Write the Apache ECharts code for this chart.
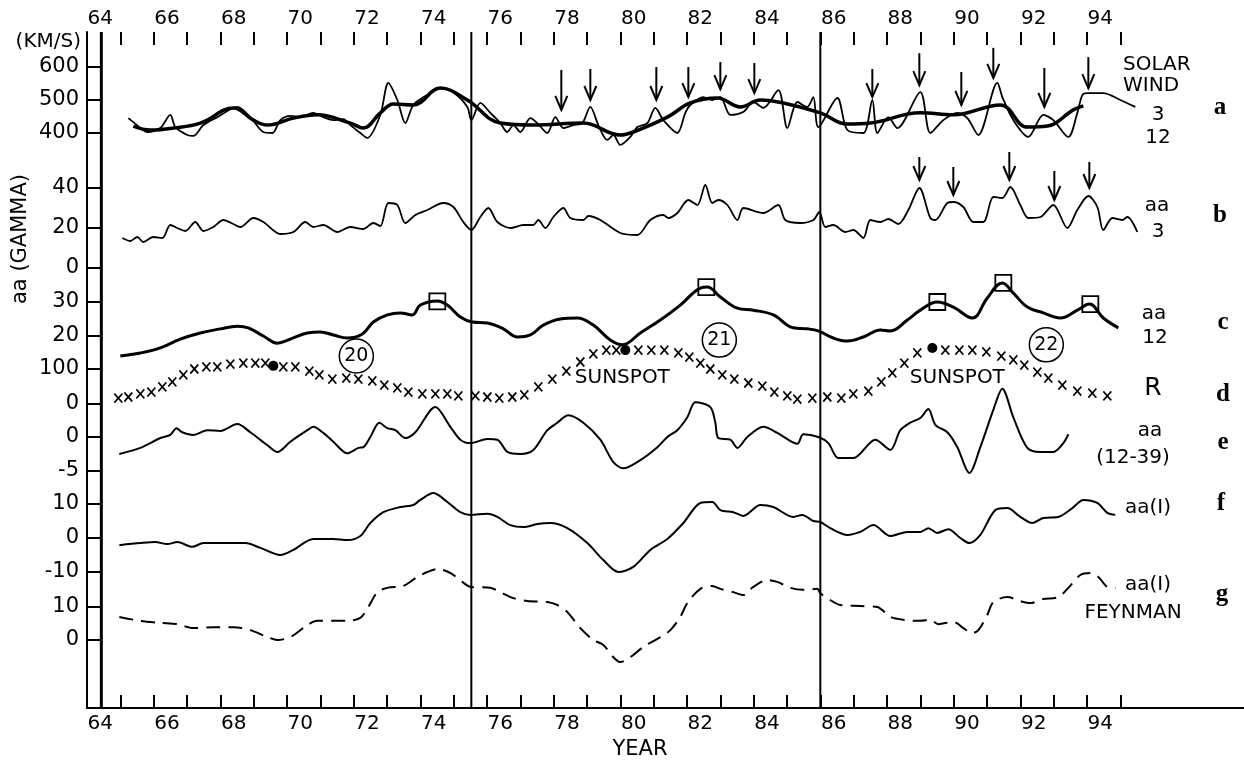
<!DOCTYPE html>
<html>
<head>
<meta charset="utf-8">
<script src="https://cdn.jsdelivr.net/npm/echarts@6/dist/echarts.min.js"></script>
<style>
  html, body { margin: 0; padding: 0; background: #fff; }
  #chart { width: 1244px; height: 764px; }
</style>
</head>
<body>
<div id="chart"></div>
<script>
// year axis
const yearLabels = [64, 66, 68, 70, 72, 74, 76, 78, 80, 82, 84, 86, 88, 90, 92, 94];
const yearTicks = [64.6, 65.6, 66.6, 67.6, 68.6, 69.6, 70.6, 71.6, 72.6, 73.6, 74.6, 75.6, 76.6, 77.6, 78.6,
  79.6, 80.6, 81.6, 82.6, 83.6, 84.6, 85.6, 86.6, 87.6, 88.6, 89.6, 90.6, 91.6, 92.6, 93.6, 94.6];
const cycleLines = [64.03, 75.13, 85.6];

// a: solar wind (km/s), 3-rotation and 12-rotation averages
const wind3 = [[64.84,445],[64.99,433],[65.41,403],[65.8,415],[66.1,455],[66.25,418],[66.61,394],[66.79,391],
  [67.09,424],[67.51,448],[68.11,479],[68.5,448],[68.89,403],[69.16,400],[69.4,439],[69.7,452],[70.0,448],
  [70.39,461],[70.69,448],[70.99,439],[71.29,442],[71.5,424],[71.8,400],[72.01,385],[72.4,455],[72.64,552],
  [72.91,500],[73.15,430],[73.39,485],[73.8,515],[74.2,536],[74.6,522],[75.01,479],[75.13,439],[75.4,491],
  [75.7,461],[76.0,430],[76.21,403],[76.39,424],[76.6,403],[76.9,445],[77.11,430],[77.41,400],[77.65,448],
  [77.89,415],[78.19,424],[78.46,430],[78.7,479],[78.94,424],[79.21,379],[79.39,394],[79.6,364],[79.9,388],
  [80.11,418],[80.41,430],[80.65,476],[80.89,439],[81.31,400],[81.55,461],[81.7,485],[82.09,509],[82.36,500],
  [82.6,509],[82.9,455],[83.29,464],[83.59,494],[83.89,476],[84.34,530],[84.61,415],[84.91,494],[85.21,479],
  [85.39,509],[85.54,418],[86.11,506],[86.41,409],[86.89,400],[87.16,500],[87.31,400],[87.64,448],[87.91,415],
  [88.6,524],[88.9,400],[89.29,439],[89.71,461],[90.01,445],[90.34,394],[90.91,552],[91.06,509],[91.39,439],
  [91.84,388],[92.29,455],[92.59,439],[93.04,388],[93.31,461],[93.46,515],[93.61,521],[94.09,521],[94.6,500],
  [95.05,479]];
const wind12 = [[64.99,421],[65.5,409],[66.19,415],[67.0,430],[68.0,476],[68.59,439],[69.01,424],[69.79,445],
  [70.51,455],[71.5,430],[71.89,415],[72.4,461],[72.79,488],[73.39,485],[74.2,536],[75.01,500],[76.0,430],
  [76.99,424],[78.49,430],[79.6,394],[79.99,403],[81.01,448],[81.7,491],[82.51,506],[83.2,479],[83.8,500],
  [84.49,491],[85.6,461],[86.41,427],[87.1,430],[88.6,461],[89.59,455],[91.0,485],[91.81,418],[92.41,421],
  [93.19,470],[93.49,482]];
// arrows: [year, tip, tail]
const windArrows = [[77.83,470,591],[78.7,500,594],[80.68,500,600],[81.64,509,600],[82.6,533,615],
  [83.62,521,612],[87.16,509,594],[88.57,545,642],[89.83,485,585],[90.79,567,658],[92.32,479,597],[93.64,536,630]];

// b: aa, 3-rotation
const aa3 = [[64.66,15],[64.9,13.5],[65.11,15.5],[65.29,13],[65.59,15.5],[65.86,15],[66.1,21.5],[66.31,20],
  [66.55,18.5],[66.85,23],[67.09,18.5],[67.39,20.5],[67.69,24],[67.99,22],[68.2,20.5],[68.59,25],[68.89,23],
  [69.4,17],[69.79,18],[70.15,23],[70.39,20.5],[70.69,21.5],[71.11,18],[71.5,20.5],[71.89,19.5],[72.19,22.5],
  [72.4,21],[72.64,32.5],[72.91,31.5],[73.15,22.5],[73.45,26.5],[73.81,29],[74.29,32.5],[74.59,30.5],[74.89,23],
  [75.13,19],[75.4,25.5],[75.64,30],[75.91,23],[76.3,20],[76.69,21.5],[76.99,21.5],[77.14,24],[77.35,20],
  [77.59,25.5],[77.89,30],[78.1,25],[78.49,24],[78.64,26],[79.0,24],[79.6,17.5],[80.11,16.5],[80.5,24],
  [80.89,26.5],[81.04,25],[81.31,27.5],[81.64,34],[81.91,31.5],[82.15,41.5],[82.36,32.5],[82.54,34],[82.81,31.5],
  [83.11,24],[83.29,30],[83.89,27.5],[84.34,31.5],[84.55,24],[85.0,22.5],[85.39,24],[85.57,28],[85.75,20.5],
  [85.99,21.5],[86.35,18],[86.59,19],[86.89,15],[87.1,24],[87.4,23],[87.64,24.5],[87.94,22],[88.24,29],
  [88.57,40],[88.9,25],[89.05,24],[89.41,32.5],[89.59,33],[89.89,30.5],[90.19,23],[90.49,23],[90.79,35.5],
  [91.06,35],[91.3,40.5],[91.6,31.5],[91.84,25],[92.2,25.5],[92.59,31.5],[93.01,20],[93.31,29],[93.64,36],
  [93.91,30.5],[94.09,19],[94.36,25],[94.66,24],[94.81,25.5],[95.11,18]];
const aaArrows = [[88.57,44,55.5],[89.59,36.5,50.5],[91.27,44,58],[92.62,34,48.5],[93.67,40,53]];

// c: aa, 12-rotation
const aa12 = [[64.6,14.1],[65.2,15],[65.8,16.5],[66.4,19.1],[67.0,20.9],[67.6,22.1],[68.11,22.9],[68.44,22.4],
  [68.89,20],[69.31,17.9],[69.7,19.1],[70.21,20.9],[70.6,21.2],[70.99,20.3],[71.41,19.4],[71.86,20.6],
  [72.19,24.1],[72.61,26.2],[73.0,26.8],[73.36,26.2],[73.6,29.1],[74.11,30.3],[74.41,29.1],[74.8,25.6],
  [75.16,24.1],[75.61,23.8],[76.09,22.1],[76.51,19.7],[76.9,20.3],[77.29,23.2],[77.8,25],[78.31,25.3],
  [78.79,23.2],[79.3,18.8],[79.66,17.4],[80.2,20.9],[80.8,24.7],[81.4,29.1],[82.0,34.1],[82.21,34.4],
  [82.6,31.5],[83.11,28.2],[83.59,27.6],[84.19,26.2],[84.79,22.4],[85.21,22.1],[85.54,21.5],[85.99,19.4],
  [86.41,18.5],[86.89,19.7],[87.4,21.8],[87.7,21.5],[88.21,24.7],[88.6,27.6],[89.11,30],[89.59,28.5],
  [90.16,25.3],[90.61,31.2],[91.06,35.6],[91.39,32.6],[91.81,28.5],[92.29,26.8],[92.8,25.3],[93.31,27.6],
  [93.67,29.4],[94.09,25.3],[94.54,22.4]];
const aa12Peaks = [[74.11,30.2],[82.18,34.4],[89.11,30],[91.09,35.6],[93.7,29.4]];
const cycleNumbers = [[71.68,14.1,'20'],[82.57,18.8,'21'],[92.38,17.4,'22']];

// d: sunspot number R
const sunspotR = [[64.54,17],[64.84,20],[65.2,29],[65.53,34],[65.86,49],[66.16,63],[66.49,83],[66.82,100],
  [67.18,106],[67.51,106],[67.9,114],[68.29,117],[68.65,117],[68.95,117],[69.49,106],[69.85,106],[70.27,94],
  [70.57,83],[70.96,71],[71.38,74],[71.74,71],[72.16,66],[72.52,54],[72.91,46],[73.24,34],[73.66,29],[74.05,29],
  [74.41,29],[74.74,23],[75.25,23],[75.61,20],[75.97,17],[76.36,20],[76.72,26],[77.14,49],[77.56,71],[77.98,94],
  [78.4,120],[78.79,143],[79.18,154],[79.48,154],[80.14,154],[80.53,154],[80.92,154],[81.34,146],[81.67,134],
  [82.0,117],[82.3,100],[82.66,83],[83.02,71],[83.44,60],[83.86,51],[84.22,34],[84.61,23],[84.91,14],[85.36,17],
  [85.81,20],[86.23,17],[86.59,29],[87.04,37],[87.43,63],[87.76,89],[88.12,117],[88.51,146],[89.35,154],
  [89.77,154],[90.16,154],[90.58,149],[91.03,137],[91.39,126],[91.72,111],[92.11,91],[92.44,74],[92.86,54],
  [93.31,37],[93.76,31],[94.21,23]];
const sunspotMax = [[69.19,109],[79.75,154],[88.96,160]];
const sunspotText = [[79.66,74,'SUNSPOT'],[89.71,74,'SUNSPOT']];

// e: aa (12-39)
const aaResid = [[64.57,-2.5],[65.2,-1.6],[65.8,-0.15],[66.1,0.3],[66.28,1.3],[66.46,0.7],[66.79,0.3],[67.21,1.0],
  [67.6,0.9],[68.11,1.9],[68.5,0.7],[69.01,-1.2],[69.31,-2.2],[69.7,-0.7],[70.21,1.0],[70.39,1.5],[70.69,0.6],
  [70.99,-0.7],[71.41,-2.4],[71.74,-1.6],[71.89,-1.5],[72.1,0],[72.37,2.1],[72.61,1.3],[72.85,1.0],[73.15,-0.15],
  [73.45,0.7],[74.05,4.4],[74.5,1.5],[74.8,-0.4],[75.1,-0.9],[75.61,-0.3],[75.91,-0.4],[76.21,-2.2],[76.6,-2.5],
  [76.99,-1.9],[77.41,1.0],[77.71,2.1],[78.04,3.2],[78.49,2.1],[79.0,-0.4],[79.39,-3.7],[79.69,-4.6],[80.2,-3.4],
  [80.71,-1.5],[81.01,0],[81.31,1.0],[81.61,2.9],[81.85,5.1],[82.3,4.4],[82.45,2.1],[82.54,-0.15],[82.9,-0.4],
  [83.11,-1.6],[83.41,0],[83.89,1.5],[84.31,0.6],[84.91,-1.0],[85.09,0.4],[85.54,0],[85.84,-0.9],[86.14,-3.1],
  [86.59,-3.1],[87.25,-0.4],[87.7,-1.9],[88.0,1.0],[88.3,2.1],[88.6,2.8],[88.84,4.1],[89.05,1.8],[89.41,0.7],
  [89.71,-1.5],[90.07,-5.3],[90.4,-1.5],[90.79,4.0],[91.06,7.1],[91.39,2.9],[91.81,-1.6],[92.2,-2.2],[92.59,-2.2],
  [92.89,-0.9],[93.04,0.4]];

// f: aa(I)
const aaI = [[64.57,-2.1],[65.2,-1.5],[65.65,-1.2],[66.01,-1.8],[66.31,-1.2],[66.76,-2.6],[67.09,-1.5],
  [67.51,-1.5],[68.35,-1.5],[68.8,-2.9],[69.4,-5.0],[69.79,-3.5],[70.39,-0.3],[70.99,-0.3],[71.41,-0.6],
  [71.8,0.6],[72.1,4.4],[72.49,7.6],[73.0,9.1],[73.39,9.7],[73.6,11.2],[73.99,13.2],[74.41,10.6],[74.8,7.6],
  [75.1,6.8],[75.61,7.1],[75.91,6.2],[76.3,3.8],[76.69,3.2],[77.11,4.1],[77.5,4.4],[78.01,2.9],[78.61,-1.5],
  [79.09,-6.5],[79.54,-10],[79.99,-8.5],[80.5,-3.5],[81.01,-0.3],[81.49,4.4],[82.0,10.3],[82.36,10.6],
  [82.6,8.2],[82.99,7.6],[83.29,6.5],[83.8,9.7],[84.19,9.1],[84.79,6.2],[85.06,6.8],[85.39,5.0],[85.6,4.7],
  [85.9,2.9],[86.41,0.9],[86.8,1.8],[87.19,3.8],[87.7,0.6],[88.21,1.8],[88.6,1.8],[88.84,2.9],[89.11,1.5],
  [89.44,2.6],[89.8,0],[90.07,-1.5],[90.4,0.9],[90.85,8.2],[91.21,8.8],[91.6,6.2],[91.96,4.4],[92.29,5.9],
  [92.74,6.2],[93.16,8.8],[93.49,11.2],[93.91,10.3],[94.21,7.4],[94.45,6.8]];

// g: aa(I) Feynman
const aaFeynman = [[64.57,7.0],[65.2,5.8],[65.8,5.2],[66.31,4.8],[66.79,3.6],[67.39,3.9],[67.99,3.9],[68.5,3.0],
  [69.01,0.9],[69.31,0],[69.7,0.9],[70.21,4.5],[70.51,5.8],[70.99,5.8],[71.41,5.8],[71.8,6.7],[72.04,10],
  [72.31,14.5],[72.61,15.8],[73.09,16.4],[73.51,19.1],[73.81,20.6],[74.11,21.5],[74.5,20.3],[74.86,17.6],
  [75.1,16.1],[75.7,15.8],[76.0,14.5],[76.39,12.7],[76.81,11.8],[77.41,11.5],[77.71,10.6],[78.01,8.5],[78.4,3.6],
  [78.79,0],[79.09,-1.5],[79.39,-5.2],[79.6,-6.7],[79.9,-5.2],[80.29,-2.1],[80.8,0.9],[81.1,3.0],[81.4,7.0],
  [81.61,11.2],[82.0,15.5],[82.36,16.4],[82.6,15.5],[82.99,14.5],[83.29,13.6],[83.59,16.1],[84.01,18.2],
  [84.31,17.6],[84.7,15.8],[85.09,15.2],[85.51,15.5],[85.6,14.2],[85.9,12.1],[86.2,10.6],[86.8,10.3],[87.31,10],
  [87.7,7.0],[88.09,6.1],[88.6,5.8],[88.9,6.1],[89.14,4.8],[89.41,5.2],[89.65,5.2],[89.89,3.6],[90.16,2.1],
  [90.34,3.0],[90.61,7.6],[90.79,11.5],[91.21,13.0],[91.6,11.8],[91.9,11.2],[92.29,12.4],[92.74,13.0],
  [93.04,15.8],[93.4,19.7],[93.7,20.3],[93.94,19.1],[94.21,16.1],[94.45,15.8]];

const FONT = '"DejaVu Sans", sans-serif';
const X_MIN = 63.6, X_MAX = 98.31;

// panel layout: [top, height, min, max, interval]
const panels = [
  [67, 66, 400, 600, 100],
  [188, 80, 0, 40, 20],
  [302, 34, 20, 30, 10],
  [369, 35, 0, 100, 100],
  [437, 34, -5, 0, 5],
  [504, 68, -10, 10, 10],
  [607, 33, 0, 10, 10]
];

const tickStyle = { color: '#000', width: 2 };
const labelFont = { color: '#000', fontSize: 20, fontFamily: FONT };

// grid 0: frame + bottom axis; grid 1: top labels; grid 2: strip above the frame whose
// bottom edge is the top line, so its outward ticks hang down into the plot
const grids = [
  { left: 87, right: 0, top: 32, height: 676 },
  { left: 87, right: 0, top: 32, height: 676 },
  { left: 87, right: 0, top: 0, height: 32 }
];
const xAxes = [
  { type: 'value', gridIndex: 0, position: 'bottom', min: X_MIN, max: X_MAX,
    axisLine: { lineStyle: tickStyle },
    axisTick: { show: true, inside: true, length: 13, customValues: yearTicks, lineStyle: tickStyle },
    axisLabel: Object.assign({ customValues: yearLabels, margin: 6 }, labelFont),
    splitLine: { show: false } },
  { type: 'value', gridIndex: 1, position: 'top', min: X_MIN, max: X_MAX,
    axisLine: { lineStyle: tickStyle }, axisTick: { show: false },
    axisLabel: Object.assign({ customValues: yearLabels, margin: 3 }, labelFont),
    splitLine: { show: false } },
  { type: 'value', gridIndex: 2, position: 'bottom', min: X_MIN, max: X_MAX,
    axisLine: { show: false },
    axisTick: { show: true, inside: false, length: 13, customValues: yearTicks, lineStyle: tickStyle },
    axisLabel: { show: false }, splitLine: { show: false } }
];
const yAxes = [
  { type: 'value', gridIndex: 0, min: 0, max: 1,
    axisLine: { show: true, lineStyle: tickStyle },
    axisTick: { show: false }, axisLabel: { show: false }, splitLine: { show: false } },
  { type: 'value', gridIndex: 1, min: 0, max: 1, show: false },
  { type: 'value', gridIndex: 2, min: 0, max: 1, show: false }
];
const P0 = 3; // first panel grid / axis index

panels.forEach(function (p, i) {
  grids.push({ left: 87, right: 0, top: p[0], height: p[1] });
  xAxes.push({ type: 'value', gridIndex: i + P0, min: X_MIN, max: X_MAX, show: false });
  yAxes.push({
    type: 'value', gridIndex: i + P0, min: p[2], max: p[3], interval: p[4],
    axisLine: { show: false },
    axisTick: { show: true, inside: true, length: 13, lineStyle: tickStyle },
    axisLabel: { color: '#000', fontSize: 21, fontFamily: FONT, margin: 8 },
    splitLine: { show: false }
  });
});

function curve(panel, data, width, extra) {
  return Object.assign({
    type: 'line', xAxisIndex: panel + P0, yAxisIndex: panel + P0, data: data,
    showSymbol: false, symbol: 'none', smooth: 0.3, clip: false,
    lineStyle: { color: '#000', width: width }, z: 3
  }, extra || {});
}

function marks(panel, data, extra) {
  return Object.assign({
    type: 'scatter', xAxisIndex: panel + P0, yAxisIndex: panel + P0, data: data, clip: false, z: 5
  }, extra);
}

function arrows(panel, data) {
  return {
    type: 'custom', xAxisIndex: panel + P0, yAxisIndex: panel + P0, data: data,
    encode: { x: 0, y: [1, 2] }, clip: false, z: 4,
    renderItem: function (params, api) {
      const x = api.value(0);
      const tip = api.coord([x, api.value(1)]);
      const tail = api.coord([x, api.value(2)]);
      return {
        type: 'group', children: [
          { type: 'line', shape: { x1: tail[0], y1: tail[1], x2: tip[0], y2: tip[1] },
            style: { stroke: '#000', lineWidth: 2 } },
          { type: 'polyline', shape: { points: [[tip[0] - 6, tip[1] - 14], [tip[0], tip[1]], [tip[0] + 6, tip[1] - 14]] },
            style: { stroke: '#000', fill: 'none', lineWidth: 2 } }
        ]
      };
    }
  };
}

const labelValue = function (p) { return p.value[2]; };

const series = [];
cycleLines.forEach(function (yr, i) {
  series.push({
    type: 'line', xAxisIndex: 0, yAxisIndex: 0, data: [[yr, 0], [yr, 1]],
    showSymbol: false, symbol: 'none', lineStyle: { color: '#000', width: i === 0 ? 3 : 2 }, z: 2
  });
});
series.push(curve(0, wind3, 1.8));
series.push(curve(0, wind12, 3.5, { smooth: 0.4 }));
series.push(arrows(0, windArrows));
series.push(curve(1, aa3, 1.8));
series.push(arrows(1, aaArrows));
series.push(curve(2, aa12, 3, { smooth: 0.4 }));
series.push(marks(2, aa12Peaks, {
  symbol: 'rect', symbolSize: 16,
  itemStyle: { color: 'transparent', borderColor: '#000', borderWidth: 1.8, opacity: 1 }
}));
series.push(marks(2, cycleNumbers, {
  symbol: 'circle', symbolSize: 34,
  itemStyle: { color: 'transparent', borderColor: '#000', borderWidth: 1.5, opacity: 1 },
  label: { show: true, position: 'inside', formatter: labelValue, color: '#000', textBorderWidth: 0,
    fontSize: 19, fontFamily: FONT }
}));
series.push(marks(3, sunspotR, {
  symbol: 'path://M0,0L8,9M8,0L0,9', symbolSize: [8, 9],
  itemStyle: { color: 'none', borderColor: '#000', borderWidth: 1.7, opacity: 1 }
}));
series.push(marks(3, sunspotMax, { symbol: 'circle', symbolSize: 10, itemStyle: { color: '#000', opacity: 1 } }));
series.push(marks(3, sunspotText, {
  symbol: 'circle', symbolSize: 1, itemStyle: { color: 'transparent', opacity: 1 },
  label: { show: true, position: 'inside', formatter: labelValue, color: '#000', textBorderWidth: 0,
    fontSize: 20, fontFamily: FONT }
}));
series.push(curve(4, aaResid, 2));
series.push(curve(5, aaI, 2));
series.push(curve(6, aaFeynman, 2, { lineStyle: { color: '#000', width: 2, type: [14, 8] } }));

function txt(x, y, s, opts) {
  return {
    type: 'text', x: x, y: y, rotation: (opts && opts.rotation) || 0,
    style: Object.assign({ text: s, fill: '#000', font: '20px ' + FONT, align: 'center', verticalAlign: 'middle' }, opts && opts.style)
  };
}
const serif = { font: 'bold 25px "Liberation Serif", serif' };

const graphics = [
  txt(81, 42, '(KM/S)', { style: { align: 'right' } }),
  txt(21, 239, 'aa (GAMMA)', { rotation: Math.PI / 2, style: { font: '21px ' + FONT } }),
  txt(640, 750, 'YEAR', { style: { font: '21px ' + FONT } }),
  txt(1123, 65, 'SOLAR', { style: { align: 'left' } }),
  txt(1123, 86, 'WIND', { style: { align: 'left' } }),
  txt(1158, 115, '3'), txt(1158, 138, '12'), txt(1220, 108, 'a', { style: serif }),
  txt(1157, 206, 'aa'), txt(1158, 232, '3'), txt(1220, 216, 'b', { style: serif }),
  txt(1154, 314, 'aa'), txt(1155, 338, '12'), txt(1223, 323, 'c', { style: serif }),
  txt(1153, 388, 'R', { style: { font: '25px ' + FONT } }), txt(1223, 395, 'd', { style: serif }),
  txt(1150, 431, 'aa'), txt(1133, 458, '(12-39)'), txt(1223, 443, 'e', { style: serif }),
  txt(1125, 508, 'aa(I)', { style: { align: 'left' } }), txt(1221, 504, 'f', { style: serif }),
  txt(1125, 585, 'aa(I)', { style: { align: 'left' } }), txt(1133, 613, 'FEYNMAN'),
  txt(1222, 595, 'g', { style: serif })
];

const chart = echarts.init(document.getElementById('chart'), null, { renderer: 'canvas' });
chart.setOption({
  backgroundColor: '#ffffff',
  animation: false,
  grid: grids,
  xAxis: xAxes,
  yAxis: yAxes,
  series: series,
  graphic: graphics
});
</script>
</body>
</html>
